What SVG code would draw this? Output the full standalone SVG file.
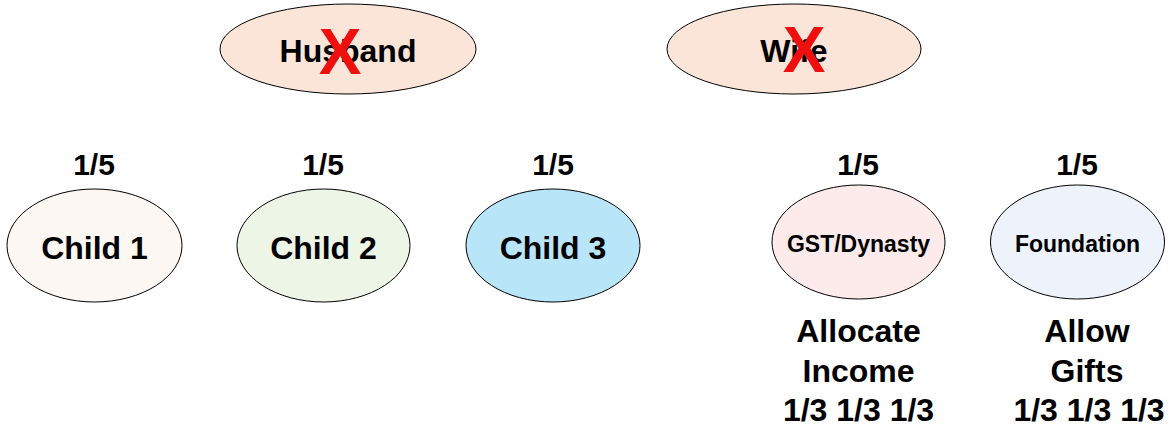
<svg xmlns="http://www.w3.org/2000/svg" width="1168" height="428" viewBox="0 0 1168 428">
  <style>
    .node { stroke: #000; stroke-width: 1; }
    text { font-family: "Liberation Sans", Arial, sans-serif; font-weight: bold; fill: #000; text-anchor: middle; }
    .big { font-size: 32px; }
    .share { font-size: 30px; }
    .small { font-size: 23px; }
    .cross { font-size: 64px; fill: #F00F0F; }
  </style>
  <rect width="1168" height="428" fill="#fff"/>

  <!-- parents (deceased) -->
  <g id="husband">
    <ellipse class="node" cx="348" cy="49" rx="128" ry="45" fill="#FAE5D8"/>
    <text class="big" x="348" y="62">Husband</text>
    <text class="cross" x="340" y="74">X</text>
  </g>
  <g id="wife">
    <ellipse class="node" cx="794" cy="49" rx="127" ry="45" fill="#FAE5D8"/>
    <text class="big" x="794" y="62">Wife</text>
    <text class="cross" x="804" y="72">X</text>
  </g>

  <!-- beneficiaries, one fifth each -->
  <g id="child1">
    <text class="share" x="94" y="175">1/5</text>
    <ellipse class="node" cx="94.5" cy="245.5" rx="87.5" ry="56.5" fill="#FCF7F2"/>
    <text class="big" x="94.5" y="259">Child 1</text>
  </g>
  <g id="child2">
    <text class="share" x="323" y="175">1/5</text>
    <ellipse class="node" cx="323.5" cy="245.5" rx="86.5" ry="56.5" fill="#EDF5E6"/>
    <text class="big" x="323.5" y="259">Child 2</text>
  </g>
  <g id="child3">
    <text class="share" x="553" y="175">1/5</text>
    <ellipse class="node" cx="553" cy="245.5" rx="87" ry="56.5" fill="#B8E6F8"/>
    <text class="big" x="553" y="259">Child 3</text>
  </g>
  <g id="gst-dynasty">
    <text class="share" x="858" y="175">1/5</text>
    <ellipse class="node" cx="858.5" cy="242" rx="86.5" ry="57" fill="#FDEBEB"/>
    <text class="small" x="858.5" y="252">GST/Dynasty</text>
    <text class="big" x="858.5" y="342">Allocate</text>
    <text class="big" x="858.5" y="382">Income</text>
    <text class="big" x="858.5" y="421">1/3 1/3 1/3</text>
  </g>
  <g id="foundation">
    <text class="share" x="1077" y="175">1/5</text>
    <ellipse class="node" cx="1077.5" cy="242" rx="87" ry="57" fill="#EEF2FA"/>
    <text class="small" x="1077.5" y="252">Foundation</text>
    <text class="big" x="1087" y="342">Allow</text>
    <text class="big" x="1087" y="382">Gifts</text>
    <text class="big" x="1089" y="421">1/3 1/3 1/3</text>
  </g>

  <g id="connectors"></g>
</svg>
